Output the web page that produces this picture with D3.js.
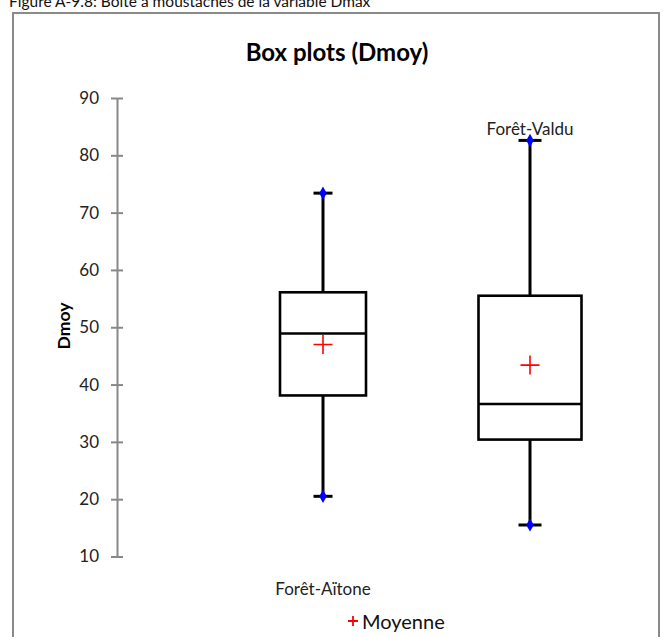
<!DOCTYPE html>
<html><head><meta charset="utf-8">
<script src="https://cdn.jsdelivr.net/npm/d3@7"></script>
<style>body{margin:0;background:#fff} svg{display:block}</style>
</head><body><svg id="c" width="667" height="637"></svg>
<script>
// ---- data ----
const categories = ["Forêt-Aïtone", "Forêt-Valdu"];
const minimum = [20.5, 15.5];
const q1 = [38.1, 30.4];
const median = [48.9, 36.6];
const q3 = [56.1, 55.5];
const maximum = [73.4, 82.6];
const mean = [47.0, 43.4];
const yTicks = [10, 20, 30, 40, 50, 60, 70, 80, 90];
const titleText = "Box plots (Dmoy)";
const yTitle = "Dmoy";
const captionText = "Figure A-9.8: Boîte à moustaches de la variable Dmax";
const legendText = "Moyenne";

// ---- style / layout ----
const FONT = "Lato, 'Open Sans', sans-serif";
const boxW = [86, 103];
const capW = [19, 23];

const svg = d3.select("#c");

svg.append("text").attr("x", 9).attr("y", 7)
  .attr("font-family", FONT).attr("font-size", 15.5).attr("fill", "#111")
  .text(captionText);

svg.append("rect").attr("x", 13).attr("y", 13).attr("width", 646).attr("height", 640)
  .attr("fill", "#fff").attr("stroke", "#8a8a8a").attr("stroke-width", 2);

svg.append("text").attr("x", 337).attr("y", 61).attr("text-anchor", "middle")
  .attr("font-family", FONT).attr("font-weight", "bold").attr("font-size", 24).attr("fill", "#000")
  .text(titleText);

const y = d3.scaleLinear().domain([10, 90]).range([556.5, 98]);
const x = d3.scaleBand().domain(categories).range([219.5, 633.5]).paddingInner(0);

const ax = svg.append("g").attr("transform", "translate(117,0)")
  .call(d3.axisLeft(y).tickValues(yTicks).tickSizeOuter(0).tickSizeInner(6).tickPadding(12).tickFormat(d3.format("d")));
ax.select(".domain").attr("stroke", "#888").attr("stroke-width", 2);
ax.selectAll(".tick line").attr("x1", -6).attr("x2", 6).attr("stroke", "#888").attr("stroke-width", 2);
ax.selectAll(".tick text").attr("font-family", FONT).attr("font-size", 17).attr("fill", "#222");

svg.append("text").attr("transform", "translate(63,326) rotate(-90)").attr("text-anchor", "middle")
  .attr("dominant-baseline", "central")
  .attr("font-family", FONT).attr("font-weight", "bold").attr("font-size", 17.5).attr("fill", "#000")
  .text(yTitle);

categories.forEach((c, i) => {
  const cx = x(c) + x.bandwidth() / 2;
  const g = svg.append("g");
  g.append("line").attr("x1", cx).attr("x2", cx).attr("y1", y(maximum[i])).attr("y2", y(q3[i]))
    .attr("stroke", "#000").attr("stroke-width", 3);
  g.append("line").attr("x1", cx).attr("x2", cx).attr("y1", y(q1[i])).attr("y2", y(minimum[i]))
    .attr("stroke", "#000").attr("stroke-width", 3);
  [maximum[i], minimum[i]].forEach(v => {
    g.append("line").attr("x1", cx - capW[i] / 2).attr("x2", cx + capW[i] / 2)
      .attr("y1", y(v)).attr("y2", y(v)).attr("stroke", "#000").attr("stroke-width", 3);
    g.append("path").attr("d", d3.symbol(d3.symbolDiamond, 50)())
      .attr("transform", `translate(${cx},${y(v)})`).attr("fill", "#0000ff");
  });
  g.append("rect").attr("x", cx - boxW[i] / 2).attr("width", boxW[i])
    .attr("y", y(q3[i])).attr("height", y(q1[i]) - y(q3[i]))
    .attr("fill", "none").attr("stroke", "#000").attr("stroke-width", 2.6);
  g.append("line").attr("x1", cx - boxW[i] / 2).attr("x2", cx + boxW[i] / 2)
    .attr("y1", y(median[i])).attr("y2", y(median[i])).attr("stroke", "#000").attr("stroke-width", 2.6);
  const my = y(mean[i]);
  g.append("path").attr("d", `M${cx - 9.5},${my}H${cx + 9.5}M${cx},${my - 9.5}V${my + 9.5}`)
    .attr("stroke", "#ff0000").attr("stroke-width", 1.6).attr("fill", "none");
  const ly = i % 2 === 0 ? 588 : 128;
  g.append("text").attr("x", cx).attr("y", ly).attr("text-anchor", "middle").attr("dominant-baseline", "central")
    .attr("font-family", FONT).attr("font-size", 17).attr("fill", "#222").text(c);
});

const lg = svg.append("g");
lg.append("path").attr("d", "M348,621H358M353,616V626").attr("stroke", "#ff0000").attr("stroke-width", 1.8);
lg.append("text").attr("x", 362).attr("y", 621).attr("dominant-baseline", "central")
  .attr("font-family", FONT).attr("font-size", 20).attr("fill", "#111").text(legendText);
</script></body></html>
